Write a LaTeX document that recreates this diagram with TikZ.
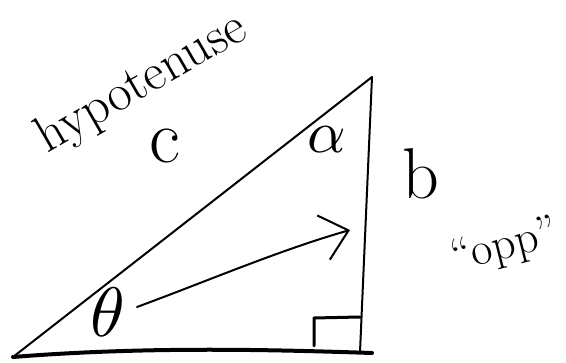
\documentclass[tikz,border=0pt]{standalone}
\usetikzlibrary{arrows.meta,shapes.geometric}
\begin{document}
\begin{tikzpicture}[x=1pt,y=-1pt,
  pen/.style={line width=2pt,line cap=round,line join=round},
  thick pen/.style={line width=4pt,line cap=round},
  hand/.style={inner sep=0pt}]
\useasboundingbox (0,0) rectangle (566,363);
\coordinate (A) at (13,357);
\coordinate (B) at (360,352);
\coordinate (Bend) at (372,353);
\coordinate (C) at (372,77);
% triangle sides
\draw[pen] (A) -- (C) -- (B);
\draw[thick pen] (A) .. controls (150,346) and (280,350) .. (Bend);
% right angle marker
\coordinate (R1) at (314,346);
\coordinate (R2) at (314,318);
\coordinate (R3) at (360,317);
\draw[pen,line width=3pt] (R1) -- (R2) -- (R3);
% theta
\node[hand] (theta) at (108,312) {\scalebox{7}{$\theta$}};
% arrow
\coordinate (arrs) at (137,307);
\coordinate (arrt) at (350,230);
\draw[pen,-{Straight Barb[length=26pt,width=46pt,line width=2pt]}] (arrs) .. controls (210,280) and (280,250) .. (arrt);
% alpha
\node[hand] (alpha) at (327,140) {\scalebox{6}{$\alpha$}};
% labels
\node[hand,font=\fontsize{52}{52}\selectfont,rotate=30] (hyp) at (142,84) {hypotenuse};
\node[hand,font=\fontsize{76}{76}\selectfont] (c) at (165,146) {c};
\node[hand,font=\fontsize{72}{72}\selectfont] (b) at (421,174) {b};
\node[hand,font=\fontsize{46}{46}\selectfont,rotate=14] (opp) at (505,247) {``opp''};
\end{tikzpicture}
\end{document}
